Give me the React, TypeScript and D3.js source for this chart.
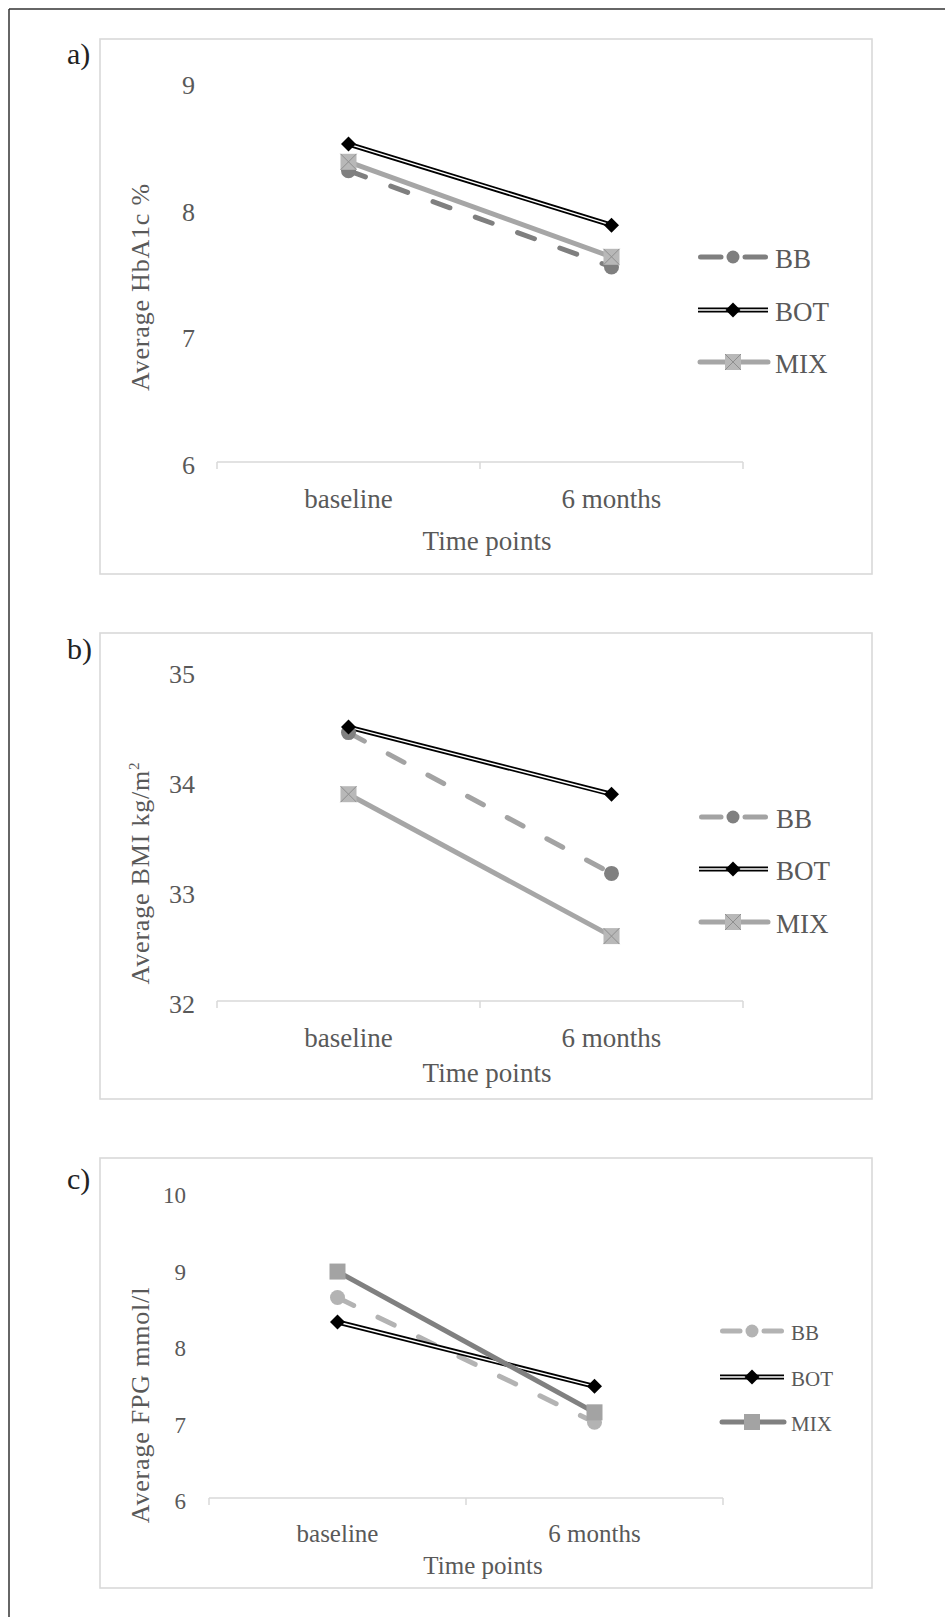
import React from 'react';
import * as d3 from 'd3';

// time points on the x axis
const categories = ['baseline', '6 months'];
const seriesNames = ['BB', 'BOT', 'MIX'];

// a) HbA1c %
const hba1cBB = [8.3, 7.54];
const hba1cBOT = [8.51, 7.87];
const hba1cMIX = [8.37, 7.62];
const hba1cTicks = [6, 7, 8, 9];

// b) BMI kg/m2
const bmiBB = [34.44, 33.16];
const bmiBOT = [34.49, 33.88];
const bmiMIX = [33.88, 32.59];
const bmiTicks = [32, 33, 34, 35];

// c) FPG mmol/l
const fpgBB = [8.62, 6.99];
const fpgBOT = [8.3, 7.46];
const fpgMIX = [8.96, 7.12];
const fpgTicks = [6, 7, 8, 9, 10];

const SERIF = '"Liberation Serif", "Times New Roman", serif';
const TXT = '#595959';

const Circle = ({ x, y, fill, r = 7.5 }) => <circle cx={x} cy={y} r={r} fill={fill} />;

const Diamond = ({ x, y }) => (
  <path d={`M${x},${y - 7.5}L${x + 7.5},${y}L${x},${y + 7.5}L${x - 7.5},${y}Z`} fill="#000" />
);

const Square = ({ x, y, fill, cross }) => (
  <g>
    <rect x={x - 8} y={y - 8} width={16} height={16} fill={fill} />
    {cross && (
      <path d={`M${x - 8},${y - 8}L${x + 8},${y + 8}M${x + 8},${y - 8}L${x - 8},${y + 8}`}
        stroke={cross} strokeWidth={1} />
    )}
  </g>
);

function Panel({ cfg }) {
  const { box, label, labelY, xRange, yDomain, yRange, ticks, values, title, sup,
    legendX, legendRows, tickSize, catSize, legendSize, titleY, catY, axisTitleX, axisTitleY, styles } = cfg;

  const x = d3.scaleBand().domain(categories).range(xRange);
  const y = d3.scaleLinear().domain(yDomain).range(yRange);
  const cx = (c) => x(c) + x.bandwidth() / 2;
  const line = d3.line().x((d, i) => cx(categories[i])).y((d) => y(d));
  const axisY = y(yDomain[0]);
  const tickXs = [xRange[0], ...categories.map((c) => x(c) + x.bandwidth())];

  const drawMarker = (name, px, py, key, legend = false) => {
    const s = styles[name];
    if (name === 'BB') return <Circle key={key} x={px} y={py} fill={s.marker} r={legend ? 6.5 : 7.5} />;
    if (name === 'BOT') return <Diamond key={key} x={px} y={py} />;
    return <Square key={key} x={px} y={py} fill={s.marker} cross={s.cross} />;
  };

  const drawLine = (name, d, key) => {
    const s = styles[name];
    if (name === 'BOT') {
      return (
        <g key={key}>
          <path d={d} fill="none" stroke="#000" strokeWidth={5} />
          <path d={d} fill="none" stroke="#fff" strokeWidth={1.4} />
        </g>
      );
    }
    return (
      <path key={key} d={d} fill="none" stroke={s.line} strokeWidth={5}
        strokeLinecap={name === 'BB' ? 'round' : 'butt'}
        strokeDasharray={name === 'BB' ? '18 27' : null} />
    );
  };

  return (
    <g>
      <rect x={box[0]} y={box[1]} width={box[2] - box[0]} height={box[3] - box[1]}
        fill="#fff" stroke="#d9d9d9" strokeWidth={1.6} />
      <text x={67} y={labelY} dy="0.35em" fontFamily={SERIF} fontSize={30} fill="#222">{label}</text>

      {/* y tick labels */}
      {ticks.map((t) => (
        <text key={t} x={tickSize.x} y={y(t) + 3} dy="0.35em" textAnchor="end"
          fontFamily={SERIF} fontSize={tickSize.size} fill={TXT}>{t}</text>
      ))}

      {/* x axis */}
      <line x1={xRange[0]} x2={xRange[1]} y1={axisY} y2={axisY} stroke="#d9d9d9" strokeWidth={1.5} />
      {tickXs.map((tx, i) => (
        <line key={i} x1={tx} x2={tx} y1={axisY} y2={axisY + 7} stroke="#d9d9d9" strokeWidth={1.5} />
      ))}
      {categories.map((c) => (
        <text key={c} x={cx(c)} y={catY} dy="0.35em" textAnchor="middle"
          fontFamily={SERIF} fontSize={catSize} fill={TXT}>{c}</text>
      ))}
      <text x={axisTitleX} y={axisTitleY} dy="0.35em" textAnchor="middle"
        fontFamily={SERIF} fontSize={catSize} fill={TXT}>Time points</text>

      {/* y axis title */}
      <text transform={`translate(140,${titleY}) rotate(-90)`} dy="0.35em" textAnchor="middle"
        fontFamily={SERIF} fontSize={26} letterSpacing={0.8} fill={TXT}>
        {title}
        {sup && <tspan fontSize={15} dy="-10">{sup}</tspan>}
      </text>

      {/* series */}
      {seriesNames.map((n, i) => drawLine(n, line(values[i]), n))}
      {seriesNames.map((n, i) => (
        <g key={n}>{values[i].map((v, j) => drawMarker(n, cx(categories[j]), y(v), j))}</g>
      ))}

      {/* legend */}
      {seriesNames.map((n, i) => {
        const ly = legendRows[i];
        const [l0, l1, lm, lt] = legendX;
        const s = styles[n];
        return (
          <g key={n}>
            {n === 'BOT' ? (
              <g>
                <line x1={l0} x2={l1} y1={ly} y2={ly} stroke="#000" strokeWidth={5} />
                <line x1={l0} x2={l1} y1={ly} y2={ly} stroke="#fff" strokeWidth={1.4} />
              </g>
            ) : n === 'BB' ? (
              <g>
                <line x1={l0 + 2.5} x2={lm - 12} y1={ly} y2={ly} stroke={s.legendLine || s.line} strokeWidth={5} strokeLinecap="round" />
                <line x1={lm + 12} x2={l1 - 2.5} y1={ly} y2={ly} stroke={s.legendLine || s.line} strokeWidth={5} strokeLinecap="round" />
              </g>
            ) : (
              <line x1={l0 + 2} x2={l1} y1={ly} y2={ly} stroke={s.line} strokeWidth={5} strokeLinecap="round" />
            )}
            {drawMarker(n, lm, ly, 'm', true)}
            <text x={lt} y={ly + 2} dy="0.35em" fontFamily={SERIF} fontSize={legendSize} fill={TXT}>{n}</text>
          </g>
        );
      })}
    </g>
  );
}

const panels = [
  {
    box: [100, 39, 872, 574], label: 'a)', labelY: 53,
    xRange: [217, 743], yDomain: [6, 9], yRange: [462, 82], ticks: hba1cTicks,
    values: [hba1cBB, hba1cBOT, hba1cMIX],
    title: 'Average HbA1c %', sup: null, titleY: 287,
    tickSize: { x: 195, size: 26 }, catSize: 27, catY: 499, axisTitleX: 487, axisTitleY: 541,
    legendX: [698, 768, 733, 775], legendRows: [257, 310, 362], legendSize: 27,
    styles: {
      BB: { line: '#7f7f7f', marker: '#7f7f7f' },
      BOT: {},
      MIX: { line: '#a6a6a6', marker: '#b8b8b8', cross: '#8f8f8f' },
    },
  },
  {
    box: [100, 633, 872, 1099], label: 'b)', labelY: 648,
    xRange: [217, 743], yDomain: [32, 35], yRange: [1001, 671], ticks: bmiTicks,
    values: [bmiBB, bmiBOT, bmiMIX],
    title: 'Average BMI kg/m', sup: '2', titleY: 873,
    tickSize: { x: 195, size: 26 }, catSize: 27, catY: 1038, axisTitleX: 487, axisTitleY: 1073,
    legendX: [699, 768, 733, 776], legendRows: [817, 869, 922], legendSize: 27,
    styles: {
      BB: { line: '#a3a3a3', marker: '#808080', legendLine: '#a3a3a3' },
      BOT: {},
      MIX: { line: '#a6a6a6', marker: '#b8b8b8', cross: '#8f8f8f' },
    },
  },
  {
    box: [100, 1158, 872, 1588], label: 'c)', labelY: 1178,
    xRange: [209, 723], yDomain: [6, 10], yRange: [1498, 1192], ticks: fpgTicks,
    values: [fpgBB, fpgBOT, fpgMIX],
    title: 'Average FPG mmol/l', sup: null, titleY: 1405,
    tickSize: { x: 186, size: 23 }, catSize: 25, catY: 1533, axisTitleX: 483, axisTitleY: 1565,
    legendX: [720, 784, 752, 791], legendRows: [1331, 1377, 1422], legendSize: 21,
    styles: {
      BB: { line: '#b3b3b3', marker: '#b3b3b3' },
      BOT: {},
      MIX: { line: '#808080', marker: '#a3a3a3', cross: null },
    },
  },
];

export default function App() {
  return (
    <svg width={945} height={1617} style={{ position: 'absolute', left: 0, top: 0, background: '#fff' }}>
      <rect x={0} y={0} width={945} height={1617} fill="#fff" />
      <line x1={9} x2={9} y1={9} y2={1617} stroke="#333" strokeWidth={1.5} />
      <line x1={9} x2={945} y1={9} y2={9} stroke="#333" strokeWidth={1.5} />
      {panels.map((p, i) => <Panel key={i} cfg={p} />)}
    </svg>
  );
}
